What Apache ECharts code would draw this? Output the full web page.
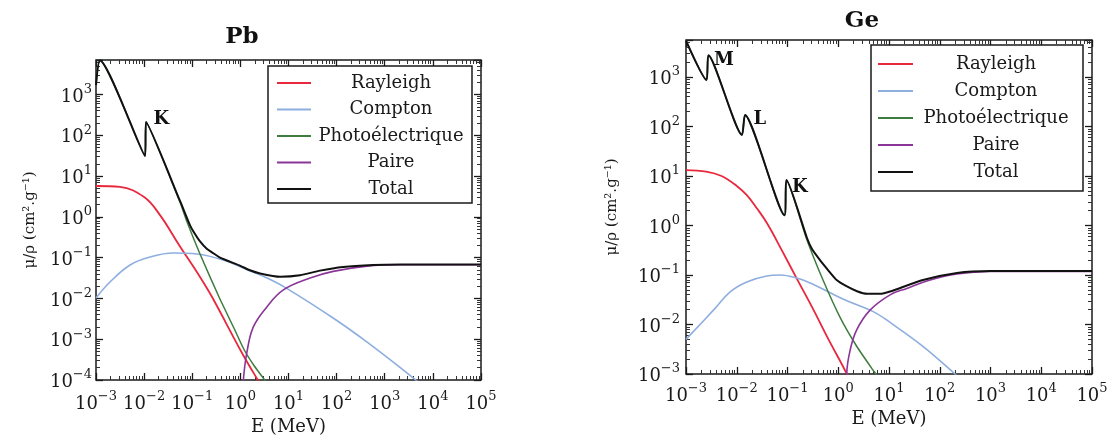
<!DOCTYPE html>
<html>
<head>
<meta charset="utf-8">
<script src="https://cdn.jsdelivr.net/npm/echarts@6/dist/echarts.min.js"></script>
<style>
html,body{margin:0;padding:0;background:#fff;}
#c{width:1112px;height:442px;}
</style>
</head>
<body>
<div id="c"></div>
<script>
// ---------- data (E in MeV, mass attenuation coefficient in cm2/g) ----------
const seriesNames = ['Rayleigh', 'Compton', 'Photoélectrique', 'Paire', 'Total'];
const panelTitles = ['Pb', 'Ge'];

const pbXRange = [1e-3, 1e5];
const pbYRange = [1e-4, 7000];
const geXRange = [1e-3, 1e5];
const geYRange = [1e-3, 5600];

const pbRayleigh = [[0.001,5.7],[0.00316,5.4],[0.01,3.05],[0.0214,1.1],[0.0532,0.204],[0.145,0.0335],[0.258,0.0108],[1.14,4.1e-4],[2.45,8.9e-5],[4.14,3.2e-5]];
const pbCompton = [[0.001,0.0102],[0.00195,0.0252],[0.0051,0.066],[0.0133,0.1035],[0.0398,0.13],[0.126,0.1225],[0.437,0.087],[1.585,0.047],[3.59,0.0316],[9.35,0.0174],[84.5,0.00331],[430,8.5e-4],[2925,1.48e-4],[6310,7e-5]];
const pbPhoto = [[0.001,1700],[0.00121,6800],[0.01045,31],[0.01096,210],[0.0557,2.29],[0.078,0.746],[0.145,0.1225],[0.36,0.0108],[0.75,0.00178],[1.19,5.6e-4],[1.9,2.3e-4],[3.11,1.05e-4],[4.5,6e-5]];
const pbPair = [[1.03,1e-5],[1.153,1.0e-4],[1.36,4.6e-4],[1.86,2.0e-3],[3.55,6.2e-3],[7.83,0.0162],[28.1,0.0316],[85,0.046],[427,0.062],[2090,0.067],[100000,0.067]];
const pbTotal = [[0.001,1700],[0.00121,6800],[0.01045,31],[0.01096,210],[0.0557,2.45],[0.09,0.62],[0.114,0.38],[0.145,0.25],[0.2,0.165],[0.257,0.135],[0.378,0.1],[1.0,0.063],[1.58,0.049],[2.57,0.041],[6.7,0.034],[17.4,0.037],[45,0.048],[136,0.059],[574,0.066],[2090,0.068],[100000,0.068]];
const pbEdges = [{name:'K', E:0.01096, V:210}];

const geRayleigh = [[0.001,13.2],[0.00251,12.3],[0.00501,10],[0.01,6.3],[0.0158,4.1],[0.0251,2.2],[0.0398,1.1],[0.0794,0.3],[0.158,0.079],[0.316,0.0209],[0.631,0.0052],[1.48,0.001],[1.78,6.3e-4]];
const geCompton = [[0.001,0.005],[0.00347,0.0195],[0.00741,0.0457],[0.0158,0.0724],[0.0389,0.0955],[0.0708,0.1],[0.151,0.087],[0.324,0.0646],[0.692,0.0437],[1.48,0.0302],[4.9,0.0182],[10.5,0.011],[47.9,0.00355],[200,0.001],[282,7.4e-4]];
const gePhoto = [[0.001,5400],[0.002535,870],[0.002773,2750],[0.01268,67.6],[0.01455,170],[0.0873,1.6],[0.0955,8.2],[0.242,0.51],[0.501,0.079],[1.08,0.0141],[2.34,0.00355],[4.84,0.0012],[5.55,0.001],[7.0,7e-4]];
const gePair = [[1.42,1e-5],[1.47,1e-3],[1.71,3.0e-3],[2.31,7.8e-3],[4.23,0.0195],[10.5,0.0398],[22.4,0.0537],[64.6,0.0794],[214,0.105],[977,0.118],[100000,0.118]];
const geTotal = [[0.001,5400],[0.002535,870],[0.002773,2750],[0.01268,67.6],[0.01455,170],[0.0873,1.62],[0.0955,8.3],[0.242,0.56],[0.304,0.335],[0.437,0.2],[0.63,0.126],[0.944,0.078],[1.42,0.06],[2.34,0.047],[3.69,0.0417],[6.65,0.0417],[10.5,0.0465],[46.8,0.0794],[219,0.11],[977,0.12],[100000,0.12]];
const geEdges = [{name:'M', E:0.002773, V:2750},{name:'L', E:0.01455, V:170},{name:'K', E:0.0955, V:8.3}];

// ---------- styles ----------
const FONT = 'DejaVu Serif';
const INK = '#1a1a1a';
const colors = ['#e8283c', '#8eaee0', '#3f7d3f', '#8a3597', '#111111'];
const widths = [1.8, 1.6, 1.5, 1.6, 2.0];
const smoothness = [0.4, 0.4, 0.2, 0.4, 0.2];
const pbEdgeOffsets = [[2,-3]];
const geEdgeOffsets = [[0,5],[3,4],[0,7]];

function powLabel(v) {
  const e = Math.log10(v);
  const r = Math.round(e);
  if (Math.abs(e - r) > 1e-6) return '';
  return '{b|10}{s|' + (r < 0 ? '\u2212' + (-r) : String(r)) + '}';
}
const labelRich = {
  b: {fontFamily: FONT, fontSize: 18, color: INK, padding: [5, 0, 0, 0]},
  s: {fontFamily: FONT, fontSize: 13, color: INK, verticalAlign: 'top'}
};

function tickCommon(g, range) {
  return {
    type: 'log', logBase: 10, gridIndex: g, min: range[0], max: range[1], splitNumber: 10,
    axisLine: {show: false}, splitLine: {show: false},
    axisTick: {show: true, inside: true, length: 7, lineStyle: {color: INK, width: 1.3}},
    minorTick: {show: true, splitNumber: 9, length: 4, lineStyle: {color: '#333', width: 1}},
    axisPointer: {show: false}
  };
}
function xAxesFor(g, range, margin, nameGap) {
  return [
    Object.assign(tickCommon(g, range), {
      position: 'bottom',
      axisLabel: {show: true, formatter: powLabel, rich: labelRich, margin: margin},
      name: 'E (MeV)', nameLocation: 'middle', nameGap: nameGap,
      nameTextStyle: {fontFamily: FONT, fontSize: 18, color: INK}
    }),
    Object.assign(tickCommon(g, range), {position: 'top', axisLabel: {show: false}})
  ];
}
function yAxesFor(g, range, margin, nameGap) {
  return [
    Object.assign(tickCommon(g, range), {
      position: 'left',
      axisLabel: {show: true, formatter: powLabel, rich: labelRich, margin: margin},
      name: '\u03BC/\u03C1 (cm\u00B2.g\u207B\u00B9)', nameLocation: 'middle', nameGap: nameGap, nameRotate: 90,
      nameTextStyle: {fontFamily: FONT, fontSize: 15, color: INK}
    }),
    Object.assign(tickCommon(g, range), {position: 'right', axisLabel: {show: false}})
  ];
}

function makeSeries(g, datasets, edges, offsets) {
  return datasets.map((d, i) => {
    const s = {
      name: seriesNames[i], type: 'line', xAxisIndex: g * 2, yAxisIndex: g * 2,
      data: d, symbol: 'none', showSymbol: false, smooth: smoothness[i],
      clip: true, color: colors[i], itemStyle: {color: colors[i]},
      lineStyle: {color: colors[i], width: widths[i]}, z: 2 + i, silent: true
    };
    if (i === 4) {
      s.markPoint = {
        symbol: 'circle', symbolSize: 1, itemStyle: {color: 'rgba(0,0,0,0)'}, silent: true,
        label: {show: true, position: 'right', distance: 5, formatter: '{b}',
                fontFamily: FONT, fontWeight: 'bold', fontSize: 18, color: '#111'},
        data: edges.map((e, k) => ({name: e.name, coord: [e.E, e.V], label: {offset: offsets[k]}}))
      };
    }
    return s;
  });
}

function legendFor(left, top, padding, gap, iconW, textW) {
  return {
    data: seriesNames, orient: 'vertical', left: left, top: top, padding: padding,
    itemGap: gap, itemWidth: iconW, itemHeight: 2, icon: 'rect',
    borderColor: INK, borderWidth: 1.5, borderRadius: 0, backgroundColor: '#fff',
    selectedMode: false, formatter: '{t|{name}}',
    textStyle: {rich: {t: {width: textW, align: 'center', fontFamily: FONT, fontSize: 18, lineHeight: 20, color: INK}}}
  };
}

const chart = echarts.init(document.getElementById('c'), null, {renderer: 'canvas'});
chart.setOption({
  animation: false,
  backgroundColor: '#fff',
  grid: [
    {left: 96, top: 60, width: 385, height: 320, show: true, borderColor: INK, borderWidth: 1.5, backgroundColor: 'transparent', containLabel: false, outerBoundsMode: 'none'},
    {left: 686, top: 40, width: 406, height: 334, show: true, borderColor: INK, borderWidth: 1.5, backgroundColor: 'transparent', containLabel: false, outerBoundsMode: 'none'}
  ],
  xAxis: [].concat(xAxesFor(0, pbXRange, 10, 34), xAxesFor(1, geXRange, 8, 35)),
  yAxis: [].concat(yAxesFor(0, pbYRange, 4, 58), yAxesFor(1, geYRange, 6, 66)),
  legend: [
    legendFor(268, 66, [8, 6, 5, 9], 8.5, 34, 150),
    legendFor(871, 45, [10, 9, 10, 7], 9, 35, 156)
  ],
  graphic: [
    {type: 'text', x: 242, y: 37, style: {text: panelTitles[0], fontFamily: FONT, fontSize: 23, fontWeight: 'bold', fill: '#111', align: 'center', verticalAlign: 'middle'}},
    {type: 'text', x: 862, y: 21, style: {text: panelTitles[1], fontFamily: FONT, fontSize: 23, fontWeight: 'bold', fill: '#111', align: 'center', verticalAlign: 'middle'}}
  ],
  series: [].concat(
    makeSeries(0, [pbRayleigh, pbCompton, pbPhoto, pbPair, pbTotal], pbEdges, pbEdgeOffsets),
    makeSeries(1, [geRayleigh, geCompton, gePhoto, gePair, geTotal], geEdges, geEdgeOffsets)
  )
});
</script>
</body>
</html>
